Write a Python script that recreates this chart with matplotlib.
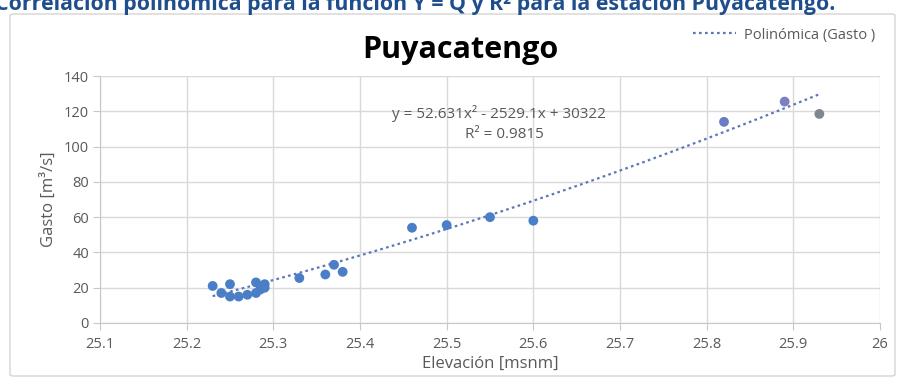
import matplotlib
matplotlib.use("Agg")
import matplotlib.pyplot as plt
import numpy as np
from matplotlib.patches import FancyBboxPatch

plt.rcParams['font.family'] = ['Open Sans', 'DejaVu Sans']

# Data
elevacion = [25.23, 25.24, 25.25, 25.25, 25.26, 25.27, 25.28, 25.28, 25.285, 25.29, 25.29,
             25.33, 25.36, 25.37, 25.38, 25.46, 25.50, 25.55, 25.60, 25.82, 25.89, 25.93]
gasto = [21, 17, 22, 15, 15, 16, 17, 23, 19, 20, 22,
         25.5, 27.5, 33, 29, 54, 55.5, 60, 58, 114, 125.5, 118.5]
point_colors = ['#4a7fc8'] * 19 + ['#6a7cc8', '#7b80c2', '#7f8792']

# Trendline coefficients (from the equation shown)
coef_a, coef_b, coef_c = 52.631, -2529.1, 30322
eq_text = "y = 52.631x² - 2529.1x + 30322"
r2_text = "R² = 0.9815"

x_ticks = [25.1, 25.2, 25.3, 25.4, 25.5, 25.6, 25.7, 25.8, 25.9, 26.0]
x_tick_labels = ["25.1", "25.2", "25.3", "25.4", "25.5", "25.6", "25.7", "25.8", "25.9", "26"]
y_ticks = [0, 20, 40, 60, 80, 100, 120, 140]

W, H = 902, 378
fig = plt.figure(figsize=(W / 100, H / 100), dpi=100)
fig.patch.set_facecolor('white')

# chart border
border = FancyBboxPatch((10 / W, 2 / H), 885 / W, 362 / H,
                        boxstyle="round,pad=0,rounding_size=0.004",
                        transform=fig.transFigure, facecolor='none',
                        edgecolor='#d4d4d4', linewidth=1.0, zorder=-1)
fig.patches.append(border)

# caption (cut at top, as in the reference)
fig.text(835 / W, 1 - 10 / H,
         "Correlación polinómica para la función Y = Q y R² para la estación Puyacatengo.",
         ha='right', va='baseline', fontsize=15.4, fontweight='bold', color='#1f4e8c')

ax = fig.add_axes([100 / W, (H - 323) / H, 780 / W, (323 - 76) / H])
ax.set_xlim(25.1, 26.0)
ax.set_ylim(0, 140)
ax.set_xticks(x_ticks)
ax.set_xticklabels(x_tick_labels)
ax.set_yticks(y_ticks)
ax.grid(True, color='#d9d9d9', linewidth=1.0)
ax.set_axisbelow(True)
for s in ['top', 'right']:
    ax.spines[s].set_visible(False)
for s in ['left', 'bottom']:
    ax.spines[s].set_color('#c8c8c8')
ax.tick_params(axis='both', colors='#c8c8c8', labelcolor='#595959', labelsize=10.5,
               length=5, direction='out')
ax.tick_params(axis='x', pad=5)
ax.tick_params(axis='y', pad=3)

ax.scatter(elevacion, gasto, s=50, c=point_colors, zorder=3, linewidths=0)

xt = np.linspace(min(elevacion), max(elevacion), 200)
yt = coef_a * xt ** 2 + coef_b * xt + coef_c
ax.plot(xt, yt, linestyle=(0, (1.2, 1.5)), color='#5a78b8', linewidth=1.6, zorder=2,
        label='Polinómica (Gasto )')

ax.text(25.56, 118.5, eq_text, ha='center', va='center', fontsize=11, color='#595959')
ax.text(25.567, 107, r2_text, ha='center', va='center', fontsize=11, color='#595959')

ax.set_xlabel("Elevación [msnm]", fontsize=12, color='#595959', labelpad=3)
ax.set_ylabel("Gasto [m³/s]", fontsize=12, color='#595959', labelpad=5)

fig.text(460 / W, 1 - 50 / H, "Puyacatengo", ha='center', va='center',
         fontsize=22, fontweight='bold', color='#000000')

leg = ax.legend(loc='center right', bbox_to_anchor=(888 / W, 1 - 35 / H),
                bbox_transform=fig.transFigure, frameon=False, fontsize=10.5,
                handlelength=3.0, handletextpad=0.5)
for t in leg.get_texts():
    t.set_color('#595959')

fig.savefig("out.png", dpi=100, facecolor='white')
